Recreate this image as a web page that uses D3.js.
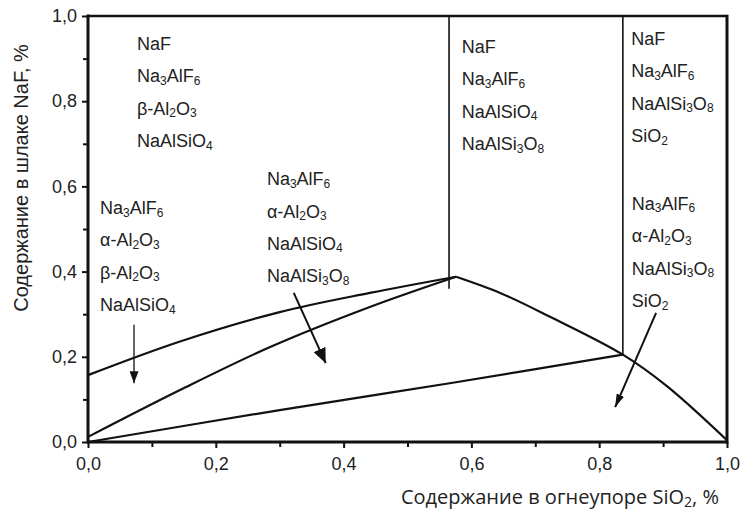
<!DOCTYPE html>
<html>
<head>
<meta charset="utf-8">
<script src="https://cdn.jsdelivr.net/npm/d3@7"></script>
<style>
  html, body { margin: 0; padding: 0; background: #fff; }
  svg { display: block; }
</style>
</head>
<body>
<svg id="chart" width="745" height="513"></svg>
<script>
// Axis ticks (fractions, both axes run 0..1)
const majorTicks = [0, 0.2, 0.4, 0.6, 0.8, 1.0];
const minorTicks = [0.1, 0.3, 0.5, 0.7, 0.9];

// Phase-field boundaries: [SiO2 in refractory, NaF in slag]
const upperBoundary = [[0, 0.157], [0.144, 0.236], [0.30, 0.305], [0.441, 0.350], [0.576, 0.388]];
const middleBoundary = [[0, 0.012], [0.144, 0.122], [0.285, 0.223], [0.441, 0.317], [0.576, 0.388]];
const lowerTieLine = [[0, 0], [0.30, 0.075], [0.566, 0.138], [0.837, 0.205]];
const liquidus = [[0.576, 0.388], [0.645, 0.350], [0.723, 0.294], [0.837, 0.205], [0.906, 0.131], [1.0, 0.004]];

// Vertical field separators: x position, lower end
const separatorX = [0.565, 0.837];
const separatorBottom = [0.36, 0.205];

// Phase assemblages in each field
const fieldTopLeft = ["NaF", "Na3AlF6", "β-Al2O3", "NaAlSiO4"];
const fieldLeft = ["Na3AlF6", "α-Al2O3", "β-Al2O3", "NaAlSiO4"];
const fieldCentre = ["Na3AlF6", "α-Al2O3", "NaAlSiO4", "NaAlSi3O8"];
const fieldTopMiddle = ["NaF", "Na3AlF6", "NaAlSiO4", "NaAlSi3O8"];
const fieldTopRight = ["NaF", "Na3AlF6", "NaAlSi3O8", "SiO2"];
const fieldRight = ["Na3AlF6", "α-Al2O3", "NaAlSi3O8", "SiO2"];

// Arrows pointing from a label into its field: [x0, y0, x1, y1]
const arrowLeft = [0.072, 0.275, 0.072, 0.138];
const arrowCentre = [0.322, 0.350, 0.372, 0.185];
const arrowRight = [0.889, 0.303, 0.825, 0.082];

const xTitle = "Содержание в огнеупоре SiO2, %";
const yTitle = "Содержание в шлаке NaF, %";

// ---- layout ----
const svg = d3.select("#chart");
const plot = { left: 88, right: 727, top: 16, bottom: 442 };
const x = d3.scaleLinear().domain([0, 1]).range([plot.left, plot.right]);
const y = d3.scaleLinear().domain([0, 1]).range([plot.bottom, plot.top]);
const labelFont = "'Liberation Sans', Arial, sans-serif";
const fmt = d => d.toFixed(1).replace(".", ",");

svg.append("rect").attr("width", 745).attr("height", 513).attr("fill", "#fff");

// Arrowhead markers
const defs = svg.append("defs");
function marker(id, len, half) {
  defs.append("marker")
    .attr("id", id)
    .attr("markerUnits", "userSpaceOnUse")
    .attr("viewBox", `0 ${-half} ${len} ${2 * half}`)
    .attr("refX", len).attr("refY", 0)
    .attr("markerWidth", len).attr("markerHeight", 2 * half)
    .attr("orient", "auto")
    .append("path")
    .attr("d", `M0,${-half}L${len},0L0,${half}Z`)
    .attr("fill", "#111");
}
marker("headSmall", 12, 4.5);
marker("headBig", 15, 6.5);
marker("headNarrow", 13, 4);

// Axes
svg.append("g").attr("transform", `translate(0,${plot.bottom})`)
  .call(d3.axisBottom(x).tickValues(majorTicks).tickFormat(fmt).tickSize(6).tickPadding(9));
svg.append("g").attr("transform", `translate(0,${plot.bottom})`)
  .call(d3.axisBottom(x).tickValues(minorTicks).tickFormat("").tickSize(5));
svg.append("g").attr("transform", `translate(${plot.left},0)`)
  .call(d3.axisLeft(y).tickValues(majorTicks).tickFormat(fmt).tickSize(6).tickPadding(5));
svg.append("g").attr("transform", `translate(${plot.left},0)`)
  .call(d3.axisLeft(y).tickValues(minorTicks).tickFormat("").tickSize(5));

svg.selectAll(".domain").remove();
svg.selectAll(".tick line").attr("stroke", "#111").attr("stroke-width", 2);
svg.selectAll(".tick text")
  .attr("font-family", labelFont).attr("font-size", 18).attr("fill", "#222");

// Frame
const frame = svg.append("g").attr("stroke", "#111").attr("fill", "none");
frame.append("line").attr("x1", x(0)).attr("x2", x(1)).attr("y1", y(0)).attr("y2", y(0)).attr("stroke-width", 3);
frame.append("line").attr("x1", x(0)).attr("x2", x(0)).attr("y1", y(0) + 1.5).attr("y2", y(1) - 1.5).attr("stroke-width", 3);
frame.append("line").attr("x1", x(0)).attr("x2", x(1)).attr("y1", y(1)).attr("y2", y(1)).attr("stroke-width", 2.5);
frame.append("line").attr("x1", x(1)).attr("x2", x(1)).attr("y1", y(0) + 1.5).attr("y2", y(1) - 1.2).attr("stroke-width", 3);

// Boundaries
const line = d3.line().x(d => x(d[0])).y(d => y(d[1])).curve(d3.curveCatmullRom.alpha(0.5));
const curves = svg.append("g").attr("fill", "none").attr("stroke", "#111")
  .attr("stroke-width", 2.2).attr("stroke-linejoin", "round");
[upperBoundary, middleBoundary, lowerTieLine, liquidus].forEach(pts => {
  curves.append("path").attr("d", line(pts));
});

separatorX.forEach((sx, i) => {
  svg.append("line")
    .attr("x1", x(sx)).attr("x2", x(sx))
    .attr("y1", y(1)).attr("y2", y(separatorBottom[i]))
    .attr("stroke", "#111").attr("stroke-width", 1.6);
});

// Arrows
[[arrowLeft, "headSmall", 1.3], [arrowCentre, "headBig", 2], [arrowRight, "headNarrow", 2]].forEach(([a, m, w]) => {
  svg.append("line")
    .attr("x1", x(a[0])).attr("y1", y(a[1]))
    .attr("x2", x(a[2])).attr("y2", y(a[3]))
    .attr("stroke", "#111").attr("stroke-width", w)
    .attr("marker-end", `url(#${m})`);
});

// Field labels with subscripted stoichiometry
const lineGap = 32.4;
function formula(textSel, s, subSize) {
  const parts = s.match(/\d+|\D+/g);
  let lowered = false;
  parts.forEach(p => {
    const isSub = /^\d+$/.test(p);
    const t = textSel.append("tspan").text(p);
    if (isSub) {
      t.attr("font-size", subSize).attr("dy", lowered ? 0 : 2.5);
      lowered = true;
    } else {
      if (lowered) t.attr("dy", -2.5);
      lowered = false;
    }
  });
}
function fieldLabel(items, fx, fy) {
  const g = svg.append("g")
    .attr("font-family", labelFont).attr("font-size", 18).attr("fill", "#222");
  items.forEach((s, i) => {
    const t = g.append("text").attr("x", x(fx)).attr("y", y(fy) + i * lineGap);
    formula(t, s, 12);
  });
}
fieldLabel(fieldTopLeft, 0.0767, 0.920);
fieldLabel(fieldLeft, 0.0188, 0.535);
fieldLabel(fieldCentre, 0.280, 0.603);
fieldLabel(fieldTopMiddle, 0.585, 0.913);
fieldLabel(fieldTopRight, 0.850, 0.932);
fieldLabel(fieldRight, 0.851, 0.545);

// Axis titles
const xt = svg.append("text")
  .attr("x", 719).attr("y", 504).attr("text-anchor", "end")
  .attr("font-family", "'Open Sans', 'DejaVu Sans', sans-serif").attr("font-size", 20).attr("fill", "#222");
formula(xt, xTitle, 14);

svg.append("text")
  .attr("transform", `translate(28,${178}) rotate(-90)`)
  .attr("text-anchor", "middle")
  .attr("font-family", labelFont).attr("font-size", 20).attr("fill", "#222")
  .text(yTitle);
</script>
</body>
</html>
